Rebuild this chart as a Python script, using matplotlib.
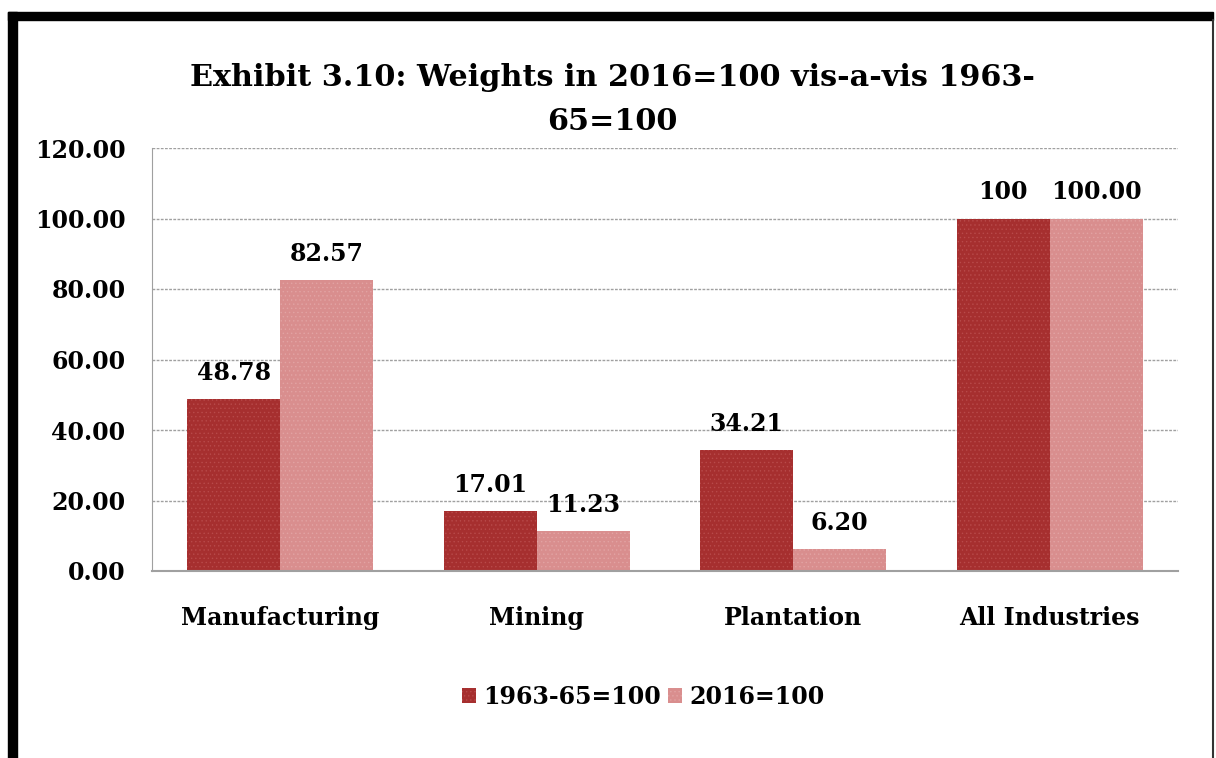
import numpy as np
import matplotlib.pyplot as plt
from matplotlib.patches import Rectangle
from matplotlib.lines import Line2D

categories = ['Manufacturing', 'Mining', 'Plantation', 'All Industries']
old_base = [48.78, 17.01, 34.21, 100]
new_base = [82.57, 11.23, 6.20, 100.00]
old_labels = ['48.78', '17.01', '34.21', '100']
new_labels = ['82.57', '11.23', '6.20', '100.00']
series_names = ['1963-65=100', '2016=100']

plt.rcParams['font.family'] = ['DejaVu Serif']
plt.rcParams['font.weight'] = 'bold'
plt.rcParams['hatch.linewidth'] = 0.5

dark = '#a62f2f'
light = '#d98e8e'

fig = plt.figure(figsize=(12.16, 7.58), dpi=100)
ax = fig.add_axes([152/1216, 1 - 571/758, 1026/1216, 423/758])

x = np.arange(len(categories))
w = 0.363
b1 = ax.bar(x - w/2, old_base, w, color=dark, label=series_names[0],
            hatch='....', edgecolor='#b84a4a', linewidth=0)
b2 = ax.bar(x + w/2, new_base, w, color=light, label=series_names[1],
            hatch='....', edgecolor='#e2a3a3', linewidth=0)

for rect, lab in zip(b1, old_labels):
    ax.text(rect.get_x() + rect.get_width()/2, rect.get_height() + 4, lab,
            ha='center', va='bottom', fontsize=17, fontweight='bold')
for rect, lab in zip(b2, new_labels):
    ax.text(rect.get_x() + rect.get_width()/2, rect.get_height() + 4, lab,
            ha='center', va='bottom', fontsize=17, fontweight='bold')

ax.set_xlim(-0.5, 3.5)
ax.set_ylim(0, 120)
ax.set_yticks(np.arange(0, 121, 20))
ax.set_yticklabels(['%.2f' % v for v in np.arange(0, 121, 20)], fontsize=17, fontweight='bold')
ax.set_xticks(x)
ax.set_xticklabels(categories, fontsize=17, fontweight='bold')
ax.tick_params(axis='y', length=0, pad=19)
ax.tick_params(axis='x', length=0, pad=25)
ax.yaxis.grid(True, color='#a0a0a0', ls=(0, (2, 1)), lw=1)
ax.set_axisbelow(True)
for s in ['top', 'right']:
    ax.spines[s].set_visible(False)
ax.spines['left'].set_color('#a0a0a0')
ax.spines['left'].set_linestyle((0, (1, 1)))
ax.spines['bottom'].set_color('#a0a0a0')
ax.spines['bottom'].set_linewidth(1.5)

fig.text(612/1216, 1 - 78/758, 'Exhibit 3.10: Weights in 2016=100 vis-a-vis 1963-',
         ha='center', va='center', fontsize=21.8, fontweight='bold')
fig.text(612/1216, 1 - 122/758, '65=100',
         ha='center', va='center', fontsize=21.8, fontweight='bold')

fig.legend(loc='center', bbox_to_anchor=(643/1216, 1 - 697/758), ncol=2,
           frameon=False, fontsize=17, handlelength=0.6, handleheight=0.6,
           handletextpad=0.3, columnspacing=0.3)

# frame around the chart
fig.patches.append(Rectangle((8/1216, 1 - 20/758), 1205/1216, 8/758,
                             transform=fig.transFigure, color='black'))
fig.patches.append(Rectangle((8/1216, 0), 9/1216, 1 - 12/758,
                             transform=fig.transFigure, color='black'))
fig.lines.append(Line2D([1213/1216, 1213/1216], [0, 1 - 20/758],
                        transform=fig.transFigure, color='#333333', lw=1.5))

fig.savefig('out.png', dpi=100)
